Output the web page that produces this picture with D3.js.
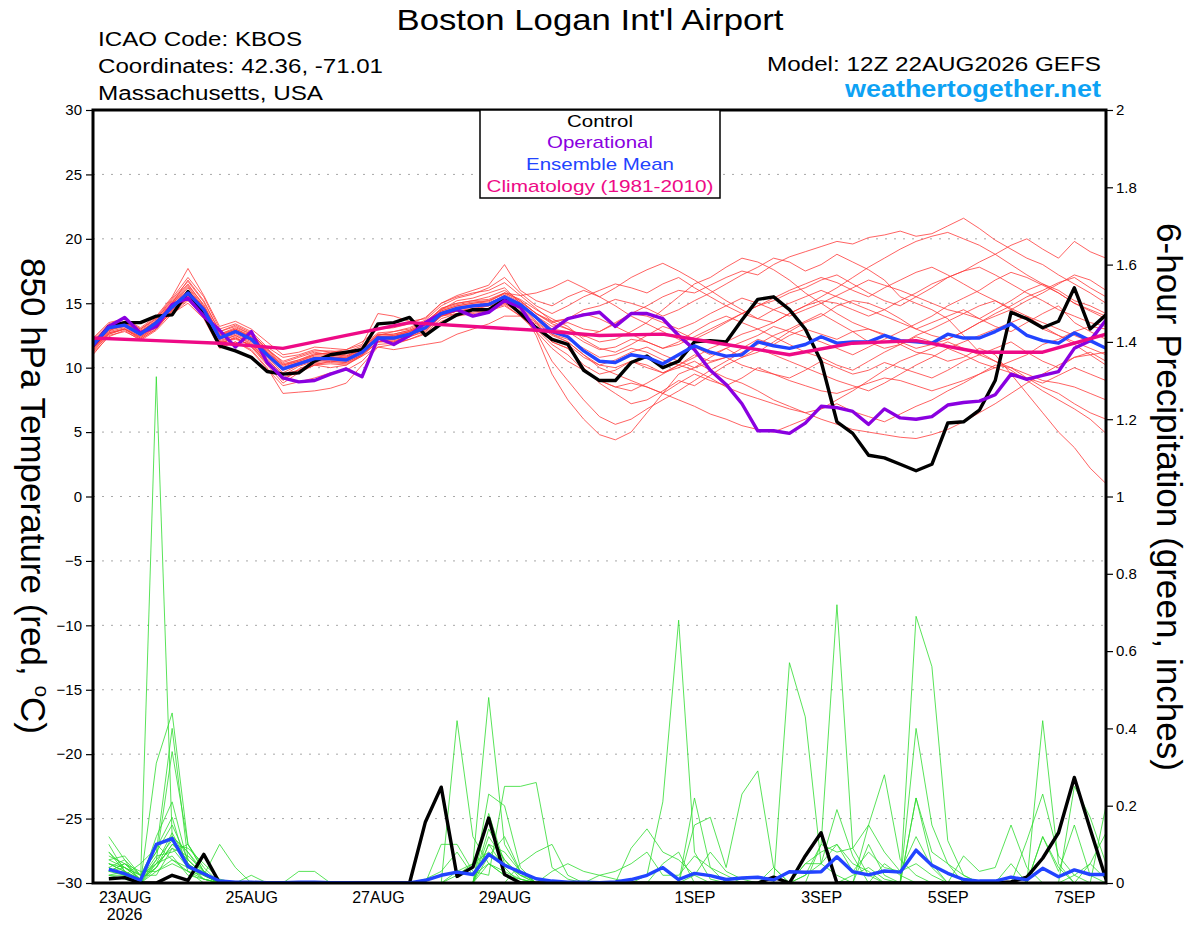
<!DOCTYPE html>
<html>
<head>
<meta charset="utf-8">
<script src="https://cdn.jsdelivr.net/npm/d3@7"></script>
<style>
  body { margin: 0; background: #fff; }
  svg { display: block; }
  text { font-family: "Liberation Sans", Arial, Helvetica, sans-serif; }
</style>
</head>
<body>
<svg id="chart" width="1200" height="927"></svg>
<script>

// forecast hours, 6-hourly out to 384h
const fcstHours = d3.range(0, 385, 6);
const precipHours = d3.range(6, 385, 6);

// 850 hPa temperature, deg C
const controlTemp = [
  11.7, 13.2, 13.5, 13.5, 14.0, 14.1, 15.9, 14.1, 11.7, 11.3, 10.8, 9.7, 9.5,
  9.6, 10.5, 11.0, 11.2, 11.4, 13.4, 13.5, 13.9, 12.5, 13.4, 14.1, 14.5, 14.5, 15.3, 14.2,
  13.1, 12.2, 11.8, 9.8, 9.0, 9.0, 10.4, 10.9, 10.0, 10.5, 12.0, 12.1, 12.0, 13.7, 15.3, 15.5, 14.5,
  13.0, 10.5, 5.8, 4.9, 3.2, 3.0, 2.5, 2.0, 2.5, 5.7, 5.8, 6.7, 9.0, 14.3, 13.8, 13.1, 13.6, 16.2, 13.0, 14.1
];
const operTemp = [
  11.7, 13.2, 13.9, 12.7, 13.2, 14.9, 15.4, 14.0, 12.9, 11.6, 12.8, 10.4, 9.2,
  8.9, 9.0, 9.5, 9.9, 9.3, 12.3, 11.8, 12.5, 13.5, 14.2, 14.5, 14.0, 14.3, 15.2, 14.7,
  12.9, 12.9, 13.8, 14.1, 14.3, 13.2, 14.2, 14.2, 13.8, 12.5, 11.4, 9.8, 8.7, 7.2, 5.1, 5.1, 4.9,
  5.7, 7.0, 6.9, 6.6, 5.6, 6.8, 6.1, 6.0, 6.2, 7.1, 7.3, 7.4, 7.9, 9.5, 9.1, 9.4, 9.7, 11.5, 12.1, 13.7
];
const meanTemp = [
  11.8, 13.1, 13.3, 12.6, 13.5, 14.7, 15.8, 14.5, 12.3, 12.8, 12.2, 11.0, 9.9,
  10.3, 10.7, 10.7, 10.6, 11.2, 12.3, 12.3, 12.6, 13.1, 14.2, 14.6, 14.8, 14.9, 15.5, 14.9,
  13.9, 12.8, 12.4, 11.3, 10.5, 10.4, 11.0, 10.8, 10.3, 11.0, 11.7, 11.2, 10.9, 11.0, 12.0, 11.7, 11.5,
  11.8, 12.4, 11.9, 12.0, 12.0, 12.5, 12.1, 12.0, 11.9, 12.6, 12.3, 12.3, 12.8, 13.4, 12.5, 12.1, 11.9, 12.7, 12.1, 11.5
];

// climatology (1981-2010), daily
const climHours = d3.range(0, 385, 24);
const climTemp = [12.3, 12.1, 11.9, 11.5, 12.5, 13.5, 13.2, 12.9, 12.5, 12.6, 11.8, 11.0, 11.9, 12.1, 11.2, 11.2, 12.6];

// ensemble members, 850 hPa temperature
const memberTemps = [
  [11.5,12.8,13.6,13.0,13.8,15.2,16.5,14.8,12.6,13.0,12.5,11.2,10.2, 10.5,11.0,11.2,11.0,11.6,12.5,12.8,13.0,13.6,14.5,15.2,15.4,15.8,16.2,15.0, 14.0,13.2,13.5,13.0,12.8,13.4,14.2,14.8,15.5,16.0,15.8,16.4,17.0,17.5,17.2,18.0,18.6, 19.0,19.4,19.8,19.6,20.1,20.3,20.6,20.2,20.4,21.0,21.6,20.8,19.9,19.2,18.5,18.0,17.2,16.5,15.8,15.0],
  [11.2,12.6,13.0,12.2,13.0,14.5,15.5,14.0,12.0,12.5,11.8,10.6,9.5, 9.8,10.2,10.5,10.4,11.0,12.0,12.2,12.5,13.0,14.0,14.2,14.5,14.8,15.0,14.3, 13.5,12.0,11.5,10.2,9.5,9.8,10.5,10.0,9.6,10.2,11.0,10.5,10.8,11.5,12.2,11.8,12.5, 13.0,12.6,12.2,12.8,13.0,12.5,11.8,11.2,11.0,10.5,10.8,11.5,11.0,9.5,8.0,6.5,5.0,3.8,2.2,1.0],
  [12.0,13.2,13.5,12.8,13.6,15.0,16.8,15.2,12.8,13.2,12.6,11.5,10.4, 10.8,11.2,11.0,10.8,11.5,12.6,12.5,12.8,13.4,14.6,15.0,15.2,15.5,16.0,15.2, 14.2,13.5,13.8,14.5,14.8,15.3,15.0,14.6,14.0,14.5,15.2,15.8,16.5,17.2,17.8,18.5,18.2, 17.5,18.0,18.8,18.2,17.6,16.8,15.5,15.0,14.5,13.8,12.5,11.2,10.5,9.8,9.0,8.2,7.5,6.8,6.0,4.9],
  [11.6,12.9,13.2,12.5,13.3,14.2,15.2,14.0,11.8,12.4,11.6,10.2,8.8, 9.6,10.2,10.0,10.2,11.0,12.0,12.0,12.5,13.0,14.0,14.4,14.5,14.6,15.0,14.2, 12.8,10.5,9.0,7.5,6.2,5.6,6.0,6.8,7.5,8.2,9.0,9.8,10.5,11.2,11.8,12.5,13.0, 13.6,14.2,13.5,12.8,12.0,11.5,11.8,12.5,13.0,13.6,14.2,14.8,15.2,14.5,13.8,13.0,12.5,12.0,11.5,11.0],
  [11.4,12.7,13.0,12.4,13.2,14.6,15.6,14.2,12.0,12.2,11.8,10.5,9.0, 9.9,10.4,10.5,10.4,11.0,12.2,12.0,12.4,12.8,14.0,14.4,14.6,14.8,15.4,14.5, 12.5,9.5,7.5,6.0,4.8,4.4,5.0,6.5,8.0,9.5,10.0,10.8,11.5,10.8,11.2,12.0,12.8, 13.5,14.0,14.8,15.2,15.0,14.5,13.8,13.0,12.5,12.2,12.8,13.5,14.2,14.8,15.5,16.0,16.6,17.0,16.2,15.5],
  [12.2,13.4,13.8,13.0,13.9,15.4,17.0,15.5,13.0,13.4,12.8,11.6,10.8, 11.0,11.4,11.2,11.4,11.8,14.2,14.0,13.6,13.8,15.0,15.6,16.0,16.4,18.0,16.0, 15.2,14.8,15.5,16.0,15.5,16.2,17.0,17.6,18.1,17.5,16.8,16.0,15.2,14.5,13.8,13.5,14.2, 14.8,15.5,16.2,17.0,17.8,18.5,19.2,19.8,20.2,20.5,20.0,19.5,18.8,18.0,17.2,16.5,16.0,15.2,14.8,14.2],
  [11.0,12.5,12.8,12.2,13.0,14.4,15.4,14.0,11.6,12.0,11.4,10.0,8.0, 8.1,8.2,8.4,8.8,10.2,11.6,11.8,12.2,12.6,13.6,14.0,14.2,14.4,14.8,14.0, 13.0,11.8,11.0,9.8,9.0,8.5,8.8,8.5,8.0,8.8,9.5,9.0,8.6,9.2,10.0,9.5,9.2, 9.8,10.5,10.0,9.5,9.8,10.4,10.0,9.6,9.2,9.8,10.5,11.0,11.5,12.0,11.2,10.5,10.0,10.8,11.2,10.5],
  [11.8,13.0,13.4,12.7,13.5,14.9,16.2,14.6,12.4,12.9,12.4,11.2,10.1, 10.5,10.9,10.9,10.7,11.4,12.4,12.4,12.8,13.3,14.4,14.8,15.0,15.1,15.8,15.2, 14.2,13.4,13.0,12.5,12.0,12.2,12.8,13.5,14.5,15.5,16.5,17.0,17.8,18.5,18.2,17.6,16.8, 15.8,15.0,14.2,13.5,13.0,12.6,12.0,11.5,11.8,12.2,12.8,13.5,14.0,14.5,15.2,15.8,16.5,17.2,16.8,16.0],
  [11.7,13.0,13.2,12.5,13.4,14.5,15.6,14.4,12.2,12.6,12.0,10.8,9.6, 10.2,10.6,10.6,10.5,11.1,12.2,12.2,12.5,13.0,14.1,14.5,14.7,14.8,15.3,14.8, 13.8,12.6,12.0,11.0,10.2,10.0,10.5,10.2,9.6,10.0,10.5,9.8,9.2,8.8,8.2,7.5,7.0, 6.5,6.0,5.6,5.2,5.0,4.8,4.6,4.5,4.8,5.2,5.8,6.5,7.2,8.0,8.8,9.5,10.2,10.8,11.0,11.2],
  [12.0,13.3,13.5,12.8,13.7,15.1,16.4,14.9,12.6,13.1,12.6,11.4,10.3, 10.6,11.1,11.1,10.9,11.4,12.5,12.6,12.9,13.5,14.6,15.0,15.2,15.3,15.8,15.3, 14.5,13.8,13.2,12.2,11.5,11.2,11.8,12.5,13.2,12.8,12.2,12.8,13.5,14.2,14.8,15.2,15.8, 16.2,16.8,17.2,16.5,15.8,15.2,14.8,15.5,16.2,17.0,17.5,17.8,17.2,16.5,15.8,15.2,14.5,14.0,13.5,13.2],
  [11.3,12.6,13.0,12.3,13.1,14.4,15.3,14.0,11.9,12.3,11.7,10.4,9.2, 9.8,10.3,10.4,10.3,10.9,12.0,12.1,12.4,12.9,14.0,14.4,14.5,14.6,15.2,14.6, 13.2,12.0,11.5,10.0,8.8,8.0,7.2,7.5,8.2,9.0,8.6,9.4,10.2,10.8,11.5,11.0,10.5, 10.0,9.5,9.0,8.6,8.2,8.8,9.5,10.2,10.8,11.5,12.0,12.5,13.0,13.5,14.0,13.2,12.5,11.8,11.0,10.2],
  [12.1,13.2,13.6,12.9,13.8,15.3,16.7,15.1,12.8,13.3,12.7,11.4,10.5, 10.9,11.3,11.3,11.2,11.7,12.7,12.8,13.1,13.7,14.8,15.4,15.7,16.2,17.0,15.8, 14.8,14.2,14.8,15.5,16.0,16.5,16.2,15.8,16.5,17.0,16.2,15.5,14.8,14.2,13.8,14.5,15.0, 15.5,16.0,15.5,15.0,14.5,14.0,13.5,13.0,13.5,14.0,14.5,13.8,13.2,12.8,13.5,14.2,14.8,13.5,12.8,12.2],
  [11.5,12.8,13.1,12.4,13.3,14.8,15.9,14.3,12.1,12.5,11.9,10.7,9.4, 10.1,10.5,10.6,10.6,11.2,12.2,12.3,12.6,13.1,14.2,14.6,14.8,15.0,15.5,14.8, 13.6,12.6,12.2,11.5,10.8,11.0,11.5,11.2,10.6,10.2,9.8,9.2,8.5,8.0,7.6,7.2,6.8, 6.5,6.8,7.2,6.6,6.2,5.8,6.4,7.0,7.5,8.2,8.8,9.5,10.2,10.0,9.2,8.5,8.0,7.2,6.5,6.0],
  [11.9,13.1,13.4,12.7,13.5,14.8,16.0,14.6,12.4,12.9,12.3,11.1,10.0, 10.4,10.8,10.8,10.7,11.3,12.4,12.4,12.7,13.2,14.3,14.7,14.9,15.0,15.6,15.0, 14.0,13.0,12.8,12.0,11.4,11.6,12.2,12.0,11.5,12.0,12.8,13.5,14.0,13.5,13.0,13.5,14.2, 14.8,15.2,15.0,14.5,14.0,14.5,15.2,15.8,16.5,17.0,17.5,18.2,18.8,19.5,20.0,19.2,18.5,19.8,19.0,18.5],
  [11.6,12.9,13.3,12.6,13.4,14.7,15.7,14.4,12.2,12.7,12.1,10.9,9.8, 10.2,10.6,10.7,10.6,11.2,12.3,12.3,12.6,13.1,14.2,14.6,14.8,14.9,15.4,14.7, 13.5,12.5,12.0,11.0,10.0,9.5,9.0,8.5,8.0,7.5,7.0,6.4,6.0,5.5,5.2,5.0,5.5, 6.0,6.8,7.5,8.2,9.0,9.8,10.5,11.0,11.5,12.0,11.5,11.0,10.5,10.0,9.5,9.0,8.8,8.5,8.0,7.5],
  [12.3,13.5,13.8,13.1,14.0,15.5,17.7,15.6,13.2,13.6,13.0,12.0,11.0, 11.2,11.6,11.5,11.4,12.0,13.0,13.1,13.4,13.9,15.0,15.5,15.8,16.0,16.6,15.6, 14.6,13.6,13.0,12.4,12.8,13.5,14.2,14.0,13.5,13.0,13.5,14.2,14.8,15.4,15.0,14.5,14.0, 14.5,15.0,15.6,16.2,16.8,16.4,16.0,15.5,15.0,14.5,14.2,13.8,14.5,15.2,16.0,16.5,15.8,15.0,14.5,14.0],
  [11.1,12.4,12.9,12.1,12.9,14.2,15.0,13.8,11.5,12.0,11.3,9.9,8.6, 8.9,9.2,9.6,9.8,10.5,11.8,11.9,12.2,12.7,13.8,14.2,14.3,14.5,14.9,14.0, 12.8,11.5,10.5,9.8,9.0,8.5,8.2,8.8,9.5,10.2,10.8,11.5,12.0,12.6,13.0,12.4,11.8, 11.2,10.8,10.2,9.8,10.5,11.2,11.8,12.4,12.0,11.5,11.0,10.4,10.0,10.5,11.0,11.8,12.2,12.8,13.2,13.0],
  [11.9,13.2,13.4,12.8,13.6,15.0,16.3,14.7,12.5,13.0,12.4,11.3,10.2, 10.6,11.0,11.0,10.9,11.5,12.6,12.6,12.9,13.4,14.5,14.9,15.1,15.2,15.7,15.1, 14.2,13.6,13.8,14.2,13.8,13.2,12.6,12.0,11.5,11.8,12.4,13.0,13.6,14.2,14.8,15.4,16.0, 16.5,17.0,16.6,16.0,15.5,16.2,16.8,17.4,17.8,17.2,16.5,15.8,15.2,14.6,14.0,13.5,13.0,12.5,12.0,11.6],
  [11.4,12.7,13.0,12.3,13.2,14.3,15.4,14.1,11.9,12.3,11.7,10.3,9.1, 9.7,10.2,10.3,10.2,10.9,11.6,11.4,11.6,11.8,12.0,12.6,13.0,13.4,14.0,14.0, 13.4,12.2,11.8,10.8,10.2,10.6,11.2,11.6,11.0,10.5,10.0,10.4,10.8,10.2,9.8,9.5,9.0, 8.6,8.2,8.0,8.4,8.8,9.2,9.0,8.6,8.2,8.6,9.0,9.5,10.0,9.6,9.2,8.8,9.4,10.0,9.5,9.0],
  [11.8,13.1,13.4,12.7,13.6,15.0,16.0,14.7,12.5,12.9,12.3,11.1,10.0, 10.4,10.8,10.8,10.8,11.3,12.4,12.5,12.8,13.3,14.4,14.8,15.0,15.2,15.8,15.6, 15.8,16.2,16.8,16.2,15.5,14.8,14.0,13.4,12.8,12.2,11.6,11.0,11.5,12.0,12.5,13.2,12.8, 12.4,12.0,11.5,11.0,11.6,12.2,12.8,13.4,14.0,14.8,15.4,16.0,16.8,17.4,17.0,16.4,15.8,15.0,14.4,13.8]
];

// 6-hour precipitation, inches (starts at f006)
const controlPrecip = [
  0.011,0.014,0,0,0.02,0.007,0.074,0,  0,0,0,0,0,0,0,0,
  0,0,0,0,0.158,0.248,0.017,0.041,  0.168,0.022,0,0,0,0,0,0,
  0,0,0,0,0,0,0,0,  0,0,0.015,0,0.07,0.13,0,0,
  0,0,0,0,0,0,0,0,  0,0.003,0.015,0.064,0.13,0.273,0.14,0.01
];
const meanPrecip = [
  0.035,0.024,0.007,0.10,0.115,0.043,0.024,0.005,  0.002,0.002,0.001,0.001,0.002,0.002,0.001,0.001,
  0,0,0,0,0.007,0.02,0.028,0.022,  0.074,0.046,0.028,0.011,0.005,0.002,0.002,0.001,
  0.003,0.009,0.02,0.04,0.009,0.025,0.019,0.009,  0.013,0.015,0.008,0.029,0.028,0.029,0.068,0.029,
  0.021,0.031,0.028,0.085,0.046,0.025,0.009,0.005,  0.005,0.015,0.008,0.038,0.016,0.034,0.022,0.022
];
const memberPrecips = [
  [0.05,0.03,0,1.31,0.12,0.04,0.01,0, 0,0,0,0,0,0,0,0, 0,0,0,0,0.01,0.03,0.08,0.02, 0.05,0.02,0,0,0,0,0,0, 0,0,0.02,0.21,0.68,0.08,0.01,0, 0,0,0,0,0,0,0,0.02, 0.04,0.01,0,0,0,0,0,0, 0,0,0,0,0,0.02,0.05,0.01],
  [0.12,0.06,0,0.31,0.44,0.1,0.03,0, 0,0,0,0,0,0,0,0, 0,0,0,0,0,0,0.42,0.12, 0.05,0.02,0.01,0,0,0,0,0, 0,0,0,0,0,0.02,0.08,0.03, 0.01,0,0,0.57,0.43,0.05,0.02,0, 0,0,0,0,0,0,0,0, 0,0,0,0.12,0.04,0,0,0],
  [0.03,0.05,0.02,0.08,0.4,0.06,0.02,0.1, 0.04,0,0,0,0,0,0,0, 0,0,0,0,0,0,0.02,0.05, 0.48,0.1,0.03,0,0,0,0,0, 0,0,0,0,0,0,0,0, 0,0,0,0,0.02,0.1,0.72,0.09, 0.02,0,0,0,0,0,0,0, 0,0,0,0,0,0,0,0],
  [0.08,0.04,0.01,0.06,0.34,0.1,0.03,0, 0,0,0,0,0,0,0,0, 0,0,0,0,0,0,0,0, 0.23,0.2,0.04,0,0,0,0,0, 0,0,0,0,0,0.22,0.04,0, 0,0,0,0,0,0,0,0, 0,0,0,0.69,0.56,0.11,0.02,0, 0,0,0,0,0,0,0,0],
  [0.02,0.03,0,0.12,0.21,0.05,0.02,0, 0,0,0,0,0,0,0,0, 0,0,0,0,0,0.1,0.1,0.03, 0.02,0.25,0.25,0.26,0.04,0.01,0,0, 0,0,0,0,0,0,0,0, 0,0,0,0,0,0,0,0, 0.15,0.28,0.06,0.02,0,0,0,0, 0,0,0,0,0,0,0,0],
  [0.06,0.07,0.02,0.1,0.12,0.08,0.03,0, 0,0,0,0,0,0,0,0, 0,0,0,0,0,0,0,0, 0,0,0,0,0,0,0,0, 0,0,0,0,0,0.15,0.17,0.04, 0.23,0.29,0.04,0,0,0,0,0, 0,0,0,0,0,0,0,0, 0,0,0,0,0,0,0,0.2],
  [0.04,0.02,0.05,0.09,0.17,0.03,0.01,0, 0,0.02,0,0,0,0,0,0, 0,0,0,0,0,0,0,0, 0.18,0.05,0.02,0,0,0,0,0, 0,0,0,0,0,0,0,0, 0,0,0,0,0.05,0.05,0.19,0.07, 0,0,0,0.22,0.08,0.05,0.02,0, 0,0,0,0.42,0.05,0,0,0],
  [0.03,0.02,0,0.05,0.13,0.05,0.02,0, 0,0,0,0,0,0,0,0, 0,0,0,0,0,0,0,0, 0,0,0,0,0,0,0,0, 0,0.09,0.14,0.08,0.06,0.02,0,0, 0,0,0,0,0,0,0,0, 0,0,0,0.4,0.15,0.05,0,0, 0,0,0,0,0,0.25,0.17,0.05],
  [0.05,0.04,0.01,0.07,0.08,0.1,0.04,0, 0,0,0,0,0.03,0.03,0,0, 0,0,0,0,0,0,0,0, 0.1,0.08,0.03,0,0,0,0,0, 0,0,0,0,0,0,0,0, 0,0,0,0,0,0,0,0, 0,0,0,0,0,0,0.07,0.03, 0.04,0.15,0.04,0,0,0,0,0],
  [0.02,0.01,0,0.04,0.1,0.06,0.02,0, 0,0,0,0,0,0,0,0, 0,0,0,0,0,0,0,0, 0.07,0.12,0.03,0,0,0,0,0, 0,0,0,0,0,0,0,0, 0,0,0,0,0,0,0,0, 0.1,0.02,0,0.22,0.05,0,0,0, 0,0,0.11,0.23,0.07,0.02,0,0],
  [0.07,0.05,0.03,0.03,0.06,0.04,0.03,0, 0,0,0,0,0,0,0,0, 0,0,0,0,0,0,0,0, 0,0,0.05,0.08,0.1,0.02,0,0, 0,0,0,0,0,0,0,0, 0,0,0,0,0.05,0.08,0.1,0.05, 0.03,0,0,0,0,0,0,0, 0,0,0,0.12,0.03,0.15,0.02,0],
  [0.04,0.06,0.02,0.02,0.09,0.07,0.03,0, 0,0,0,0,0,0,0,0, 0,0,0,0,0,0,0,0, 0.12,0.06,0.01,0,0,0,0,0, 0,0,0,0,0,0,0,0, 0,0,0,0,0,0.1,0.08,0.09, 0.15,0.08,0.03,0.12,0.04,0,0,0, 0,0,0,0,0,0,0,0],
  [0.1,0.03,0,0.1,0.06,0.03,0.02,0, 0,0,0,0,0,0,0,0, 0,0,0,0,0,0,0,0, 0.1,0.04,0,0,0,0,0,0, 0,0,0,0.05,0.08,0,0,0, 0,0,0,0,0,0,0,0, 0,0,0,0,0,0,0,0, 0,0,0,0,0,0,0.05,0.13],
  [0.03,0.04,0.02,0.05,0.07,0.02,0.01,0, 0,0,0,0,0,0,0,0, 0,0,0,0,0,0,0.03,0.05, 0.08,0.05,0.02,0.01,0,0,0,0, 0,0,0,0,0,0,0,0, 0,0,0,0,0,0,0,0, 0,0,0,0,0,0,0,0, 0,0.05,0,0,0,0,0,0],
  [0.02,0.02,0,0.03,0.05,0.03,0,0, 0,0,0,0,0,0,0,0, 0,0,0,0,0,0,0,0, 0,0,0,0,0.03,0.05,0.03,0.02, 0.01,0,0,0,0,0,0,0, 0,0,0,0,0,0,0,0, 0,0,0,0,0,0,0,0, 0,0,0,0,0,0,0,0],
  [0.05,0.03,0.01,0.04,0.12,0.08,0.02,0, 0,0,0,0,0,0,0,0, 0,0,0,0,0,0,0,0, 0.14,0.06,0.02,0,0,0,0,0, 0,0,0,0,0,0,0,0, 0,0,0,0,0,0,0,0, 0,0,0,0,0,0,0,0, 0,0,0,0,0,0,0,0],
  [0.03,0.05,0.01,0.05,0.09,0.04,0.02,0, 0,0,0,0,0,0,0,0, 0,0,0,0,0,0,0,0, 0,0,0,0,0,0,0,0.02, 0.03,0.05,0.08,0.02,0.02,0.07,0.04,0.02, 0,0,0,0,0,0,0,0, 0,0,0,0,0,0,0,0, 0,0,0,0,0,0,0,0],
  [0.06,0.04,0.02,0.08,0.15,0.06,0.02,0, 0,0,0,0,0,0,0,0, 0,0,0,0,0,0,0,0, 0,0,0,0,0,0,0,0, 0,0,0,0,0,0,0,0, 0,0,0,0,0.02,0.05,0.1,0.03, 0.08,0.04,0.03,0.05,0.02,0,0,0, 0,0,0,0,0,0,0,0],
  [0.04,0.02,0,0.06,0.11,0.05,0.01,0, 0,0,0,0,0,0,0,0, 0,0,0,0,0,0,0,0, 0,0,0,0,0,0,0,0, 0,0,0,0,0,0,0,0, 0,0,0,0,0,0,0,0, 0,0.05,0.02,0,0,0,0,0, 0,0,0,0,0,0,0,0],
  [0.08,0.03,0.01,0.04,0.1,0.09,0.05,0.01, 0,0,0,0,0,0,0,0, 0,0,0,0,0,0,0,0, 0.05,0.03,0.01,0,0,0,0,0, 0,0,0,0,0,0,0,0, 0,0,0.04,0,0,0,0,0, 0,0,0,0,0,0,0,0, 0,0,0,0,0,0,0,0]
];

// axis ticks and labels
const tempTicks = [-30, -25, -20, -15, -10, -5, 0, 5, 10, 15, 20, 25, 30];
const precipTicks = [0, 0.2, 0.4, 0.6, 0.8, 1, 1.2, 1.4, 1.6, 1.8, 2];
const dateTickHours = [12, 60, 108, 156, 228, 276, 324, 372];
const dateLabels = ["23AUG", "25AUG", "27AUG", "29AUG", "1SEP", "3SEP", "5SEP", "7SEP"];
const legendItems = ["Control", "Operational", "Ensemble Mean", "Climatology (1981-2010)"];

// ---- drawing ----
const svg = d3.select('#chart');
const plotLeft = 93, plotRight = 1106, plotTop = 110, plotBottom = 883;
const runStart = Date.UTC(2026, 7, 22, 12);
const hourDate = h => new Date(runStart + h * 3600e3);

const x = d3.scaleUtc().domain([hourDate(0), hourDate(384)]).range([plotLeft, plotRight]);
const yT = d3.scaleLinear().domain([-30, 30]).range([plotBottom, plotTop]);
const yP = d3.scaleLinear().domain([0, 2]).range([plotBottom, plotTop]);

svg.append('rect').attr('width', 1200).attr('height', 927).attr('fill', '#fff');

svg.append('clipPath').attr('id', 'plotclip')
  .append('rect').attr('x', plotLeft).attr('y', plotTop)
  .attr('width', plotRight - plotLeft).attr('height', plotBottom - plotTop);

// dotted grid at temperature ticks
svg.append('g').selectAll('line')
  .data(tempTicks.filter(t => t > -30 && t < 30))
  .join('line')
  .attr('x1', plotLeft).attr('x2', plotRight)
  .attr('y1', d => yT(d)).attr('y2', d => yT(d))
  .attr('stroke', '#a8a8a8').attr('stroke-width', 1)
  .attr('stroke-dasharray', '2,7');

const plot = svg.append('g').attr('clip-path', 'url(#plotclip)');

const tempLine = d3.line().x((d, i) => x(hourDate(fcstHours[i]))).y(d => yT(d));
const climLine = d3.line().x((d, i) => x(hourDate(climHours[i]))).y(d => yT(d));
const precipLine = d3.line().x((d, i) => x(hourDate(precipHours[i]))).y(d => yP(d));

// members
plot.append('g').selectAll('path').data(memberTemps).join('path')
  .attr('d', tempLine).attr('fill', 'none')
  .attr('stroke', '#ff3a3a').attr('stroke-width', 0.8);

plot.append('g').selectAll('path').data(memberPrecips).join('path')
  .attr('d', precipLine).attr('fill', 'none')
  .attr('stroke', '#2edc2e').attr('stroke-width', 0.8);

// thick lines
function thick(d, gen, color) {
  plot.append('path').datum(d).attr('d', gen)
    .attr('fill', 'none').attr('stroke', color)
    .attr('stroke-width', 3.4).attr('stroke-linejoin', 'round');
}
thick(controlTemp, tempLine, '#000');
thick(controlPrecip, precipLine, '#000');
thick(operTemp, tempLine, '#8a00e0');
thick(meanTemp, tempLine, '#2244ff');
thick(meanPrecip, precipLine, '#2244ff');
thick(climTemp, climLine, '#ee0a86');

// axes
const leftAxis = svg.append('g').attr('transform', `translate(${plotLeft},0)`)
  .call(d3.axisLeft(yT).tickValues(tempTicks).tickSize(7).tickPadding(4));
const rightAxis = svg.append('g').attr('transform', `translate(${plotRight},0)`)
  .call(d3.axisRight(yP).tickValues(precipTicks).tickSize(7).tickPadding(3)
    .tickFormat(d => String(+d.toFixed(1))));
const bottomAxis = svg.append('g').attr('transform', `translate(0,${plotBottom})`)
  .call(d3.axisBottom(x).tickValues(dateTickHours.map(hourDate)).tickSize(0).tickPadding(9)
    .tickFormat((d, i) => dateLabels[i]));

[leftAxis, rightAxis, bottomAxis].forEach(g => {
  g.select('.domain').remove();
  g.selectAll('text').attr('font-family', '"Liberation Sans", Arial, sans-serif').attr('fill', '#000');
  g.selectAll('line').attr('stroke', '#000').attr('stroke-width', 1.2);
});
leftAxis.selectAll('text').attr('font-size', 15);
rightAxis.selectAll('text').attr('font-size', 15);
bottomAxis.selectAll('text').attr('font-size', 16);

svg.append('text').attr('x', x(hourDate(dateTickHours[0]))).attr('y', 920)
  .attr('text-anchor', 'middle').attr('font-size', 16).text('2026');

// frame
svg.append('rect').attr('x', plotLeft).attr('y', plotTop)
  .attr('width', plotRight - plotLeft).attr('height', plotBottom - plotTop)
  .attr('fill', 'none').attr('stroke', '#000').attr('stroke-width', 3);

// legend box
const legend = svg.append('g');
legend.append('rect').attr('x', 480).attr('y', plotTop).attr('width', 240).attr('height', 88)
  .attr('fill', '#fff').attr('stroke', '#000').attr('stroke-width', 1.5);
const legendColors = ['#000', '#8a00e0', '#2244ff', '#ee0a86'];
const legendY = [127, 148, 170, 192];
const legendW = [66, 106, 148, 227];
legend.selectAll('text').data(legendItems).join('text')
  .attr('x', 600).attr('y', (d, i) => legendY[i])
  .attr('text-anchor', 'middle').attr('font-size', 17)
  .attr('textLength', (d, i) => legendW[i]).attr('lengthAdjust', 'spacingAndGlyphs')
  .attr('fill', (d, i) => legendColors[i]).text(d => d);

// header texts
function label(txt, xPos, yPos, size, len, opts = {}) {
  return svg.append('text').attr('x', xPos).attr('y', yPos)
    .attr('font-size', size).attr('textLength', len).attr('lengthAdjust', 'spacingAndGlyphs')
    .attr('text-anchor', opts.anchor || 'start')
    .attr('fill', opts.fill || '#000')
    .attr('font-weight', opts.weight || 'normal')
    .text(txt);
}
label("Boston Logan Int'l Airport", 590, 30, 29, 387, {anchor: 'middle'});
label('ICAO Code: KBOS', 98, 46, 20, 204);
label('Coordinates: 42.36, -71.01', 98, 73, 20, 285);
label('Massachusetts, USA', 98, 100, 20, 225);
label('Model: 12Z 22AUG2026 GEFS', 1101, 71, 20, 334, {anchor: 'end'});
label('weathertogether.net', 1101, 97, 23, 256, {anchor: 'end', fill: '#0ea2f4', weight: 'bold'});

// axis titles
const yTitle = svg.append('text')
  .attr('transform', 'translate(21,496) rotate(90)')
  .attr('text-anchor', 'middle').attr('font-size', 35)
  .attr('textLength', 476).attr('lengthAdjust', 'spacingAndGlyphs');
yTitle.append('tspan').text('850 hPa Temperature (red, ');
yTitle.append('tspan').attr('font-size', 21).attr('dy', -14).text('o');
yTitle.append('tspan').attr('dy', 14).text('C)');

svg.append('text')
  .attr('transform', 'translate(1157,497) rotate(90)')
  .attr('text-anchor', 'middle').attr('font-size', 35)
  .attr('textLength', 548).attr('lengthAdjust', 'spacingAndGlyphs')
  .text('6-hour Precipitation (green, inches)');
</script>
</body>
</html>
